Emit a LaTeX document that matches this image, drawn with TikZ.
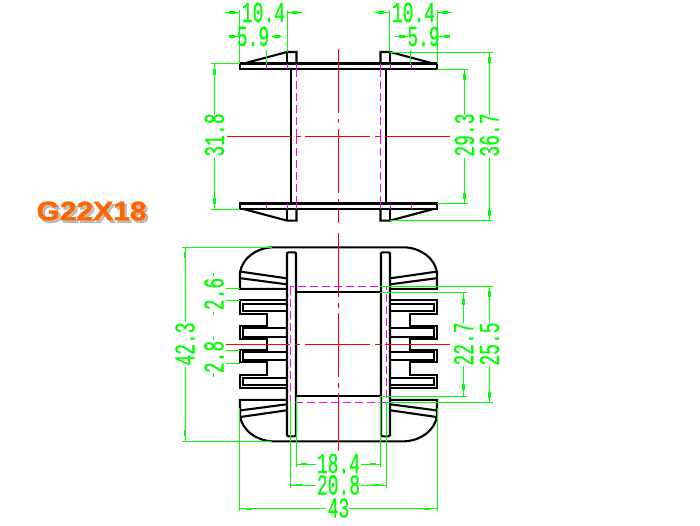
\documentclass[tikz,border=0pt]{standalone}
\usepackage{fontspec}
\newfontfamily\dimfont[FakeStretch=0.62,FakeBold=0.5]{Liberation Mono}
\newfontfamily\titlefont[FakeStretch=1.13,FakeBold=1.5]{Liberation Sans}
\definecolor{dimgreen}{RGB}{0,255,0}
\definecolor{hidmagenta}{RGB}{255,0,255}
\definecolor{titleorange}{RGB}{255,102,0}
\tikzset{
    part/.style={line width=2.1pt},
    dimline/.style={dimgreen,line width=1pt},
    dimtick/.style={dimgreen,line width=2.2pt},
    hidden/.style={hidmagenta,line width=1pt},
    hiddash/.style={hidden,dash pattern=on 8pt off 4pt},
    centre/.style={red,line width=1pt},
    dimtext/.style={dimgreen,inner sep=0pt,font=\dimfont\fontsize{29}{29}\selectfont},
    vdimtext/.style={dimtext,rotate=90},
    titletext/.style={inner sep=0pt,font=\titlefont\bfseries\fontsize{26.5}{26.5}\selectfont},
}
\begin{document}
\begin{tikzpicture}[x=1pt,y=-1pt]
    \useasboundingbox (0,0) rectangle (700,525);
    % upper view
    \draw [part] (240,63.5) rectangle (437,69);
    \draw [part] (240,203.5) rectangle (437,209);
    \draw [part] (290.7,69)--(290.7,203.5);
    \draw [part] (386.3,69)--(386.3,203.5);
    \foreach \sx in {1,-1} \foreach \sy in {1,-1} {
        \begin{scope}[shift={(338.5,136.3)},xscale=\sx,yscale=\sy]
            \draw [part] (-94,-73)--(-51.5,-84.3)--(-42,-84.3)--(-42,-73);
            \draw [part] (-51.5,-84.3)--(-51.5,-73);
            \draw [hidden] (-72.5,-72.8)--(-72.5,-67.3);
            \draw [hidden] (-51.5,-72.8)--(-51.5,-67.3);
            \draw [hidden] (-42,-72.8)--(-42,-67.3);
            \draw [hiddash] (-42,-67.3)--(-42,0);
        \end{scope}
    }
    \foreach \ya/\yb in {49/113,119/123,129/193,199/203,209/223} {
        \draw [centre] (338.5,\ya)--(338.5,\yb);
    }
    \foreach \xa/\xb in {227/291,296/301,305/370,375/380,385/450} {
        \draw [centre] (\xa,136)--(\xb,136);
    }
    % lower view
    \foreach \sx in {1,-1} \foreach \sy in {1,-1} {
        \begin{scope}[shift={(338.5,344.3)},xscale=\sx,yscale=\sy]
            \draw [part] (0,-97)--(-66.5,-97) .. controls (-83,-96) and (-96,-86) .. (-98.5,-72)--(-98.5,-55.5)--(-51.5,-55.5);
            \draw [part] (-97.5,-72.6)--(-51.8,-66);
            \draw [part] (-97.5,-66)--(-51.8,-60);
            \draw [part] (-51.5,0)--(-51.5,-91)--(-50,-92)--(-44,-92)--(-42.5,-91)--(-42.5,0);
            \draw [part] (-42.5,-52)--(0,-52);
            \draw [part] (-51.5,-44)--(-98.5,-44)--(-98.5,-30.7)--(-71.5,-30.7)--(-71.5,-18)--(-98.5,-18)--(-98.5,-5.5)--(-71.5,-5.5)--(-71.5,0);
            \draw [part] (-51.5,-40.7)--(-95.5,-40.7)--(-95.5,-33.3)--(-51.5,-33.3);
            \draw [part] (-51.5,-16)--(-95.5,-16)--(-95.5,-7.5)--(-51.5,-7.5);
        \end{scope}
    }
    \draw [hiddash] (290.3,286.5) rectangle (386.7,402);
    \foreach \ya/\yb in {233/297,303/308,313/377,383/388,393/451} {
        \draw [centre] (338.5,\ya)--(338.5,\yb);
    }
    \foreach \xa/\xb in {226/290,295/300,305/370,375/380,385/450} {
        \draw [centre] (\xa,344)--(\xb,344);
    }
    % upper dimensions
    \node [dimtext] (dimA) at (263.5,12.5) {10.4};
    \node [dimtext] (dimB) at (413.5,12.5) {10.4};
    \node [dimtext] (dimC) at (253,36.5) {5.9};
    \node [dimtext] (dimD) at (423.5,36.5) {5.9};
    \node [vdimtext] (dimE) at (214.5,135) {31.8};
    \node [vdimtext] (dimF) at (464.5,135) {29.3};
    \node [vdimtext] (dimG) at (489.5,135) {36.7};
    \draw [dimline] (239.5,10)--(239.5,63.5);
    \draw [dimline] (287.5,10)--(287.5,52);
    \draw [dimline] (389.5,10)--(389.5,52);
    \draw [dimline] (437.5,10)--(437.5,63.5);
    \draw [dimline] (266,50)--(266,63.5);
    \draw [dimline] (410.5,50)--(410.5,63.5);
    \draw [dimline] (225,12.5)--(239.5,12.5);
    \draw [dimline] (287.5,12.5)--(302,12.5);
    \draw [dimline] (375,12.5)--(389.5,12.5);
    \draw [dimline] (437.5,12.5)--(452,12.5);
    \draw [dimline] (229,36.5)--(239.5,36.5);
    \draw [dimline] (272,36.5)--(282,36.5);
    \draw [dimline] (395,36.5)--(408,36.5);
    \draw [dimline] (437.5,36.5)--(448,36.5);
    \draw [dimline] (211,63.5)--(240,63.5);
    \draw [dimline] (211,209)--(240,209);
    \draw [dimline] (214.5,63.5)--(214.5,115);
    \draw [dimline] (214.5,158)--(214.5,209);
    \draw [dimline] (437,69)--(468,69);
    \draw [dimline] (437,203)--(468,203);
    \draw [dimline] (464.5,69)--(464.5,115);
    \draw [dimline] (464.5,158)--(464.5,203);
    \draw [dimline] (390,52)--(493,52);
    \draw [dimline] (390,220)--(493,220);
    \draw [dimline] (489.5,52)--(489.5,115);
    \draw [dimline] (489.5,158)--(489.5,220);
    % lower dimensions
    \node [vdimtext] (dimH) at (185,344) {42.3};
    \node [vdimtext] (dimI) at (214,294) {2.6};
    \node [vdimtext] (dimJ) at (214,357) {2.8};
    \node [vdimtext] (dimK) at (463.5,344) {22.7};
    \node [vdimtext] (dimL) at (489.5,344) {25.5};
    \node [dimtext] (dimM) at (338.5,463.5) {18.4};
    \node [dimtext] (dimN) at (338.5,485) {20.8};
    \node [dimtext] (dimO) at (338.5,508) {43};
    \draw [dimline] (182,247)--(272,247);
    \draw [dimline] (182,441.5)--(272,441.5);
    \draw [dimline] (185,247)--(185,322);
    \draw [dimline] (185,367)--(185,441.5);
    \draw [dimline] (226,288)--(240,288);
    \draw [dimline] (226,300)--(240,300);
    \draw [dimline] (226,350)--(240,350);
    \draw [dimline] (226,363)--(240,363);
    \draw [dimline] (213,273)--(213,276);
    \draw [dimline] (213,312)--(213,315);
    \draw [dimline] (213,337)--(213,340);
    \draw [dimline] (213,373)--(213,377);
    \draw [dimline] (380,292)--(467,292);
    \draw [dimline] (380,396.5)--(467,396.5);
    \draw [dimline] (463.5,292)--(463.5,323);
    \draw [dimline] (463.5,366)--(463.5,396.5);
    \draw [dimline] (380,286)--(493,286);
    \draw [dimline] (386.7,402)--(493,402);
    \draw [dimline] (489.5,286)--(489.5,322);
    \draw [dimline] (489.5,366)--(489.5,402);
    \draw [dimline] (296.3,397)--(296.3,467);
    \draw [dimline] (380.7,397)--(380.7,467);
    \draw [dimline] (290.3,402)--(290.3,488);
    \draw [dimline] (386.7,402)--(386.7,488);
    \draw [dimline] (239.5,408)--(239.5,511);
    \draw [dimline] (437.5,408)--(437.5,511);
    \draw [dimline] (296.3,464)--(316,464);
    \draw [dimline] (361,464)--(380.7,464);
    \draw [dimline] (290.3,485)--(316,485);
    \draw [dimline] (361,485)--(386.7,485);
    \draw [dimline] (239.5,508.7)--(326,508.7);
    \draw [dimline] (349,508.7)--(437.5,508.7);
    \foreach \mx/\my in {232/12.5,295/12.5,381/12.5,445/12.5,231.5/36.5,276.5/36.5,401.5/36.5,446.5/36.5,304/464,372.7/464,299/485,377/485,249/508.7,427/508.7} {
        \draw [dimtick] (\mx-3,\my)--(\mx+3,\my);
    }
    \foreach \mx/\my in {214.5/72,464.5/77,489.5/60,214.5/201,464.5/196,489.5/213,185/255,185/433,463.5/302,489.5/294,463.5/387,489.5/395} {
        \draw [dimtick] (\mx,\my-3)--(\mx,\my+3);
    }
    % title
    \node [titletext,black,opacity=0.25] (titleshade) at (94,213.5) {G22X18};
    \node [titletext,titleorange] (title) at (91.5,211) {G22X18};
\end{tikzpicture}
\end{document}
